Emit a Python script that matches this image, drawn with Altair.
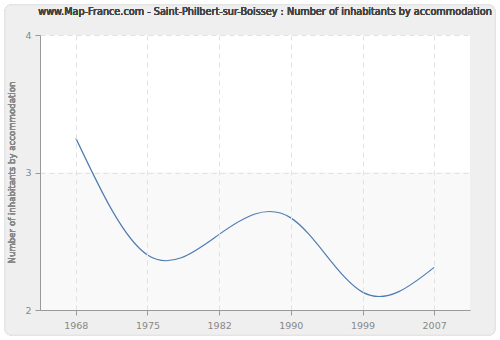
import altair as alt
import pandas as pd

years = ["1968", "1975", "1982", "1990", "1999", "2007"]
values = [3.25, 2.40, 2.55, 2.67, 2.13, 2.31]
y_ticks = [2, 3, 4]
title_text = "www.Map-France.com - Saint-Philbert-sur-Boissey : Number of inhabitants by accommodation"
y_title = "Number of inhabitants by accommodation"

df = pd.DataFrame({"year": years, "value": values})
FONT = "DejaVu Sans"

xscale = alt.Scale(type="point", domain=years, padding=0.5)
yscale = alt.Scale(domain=[2, 4], nice=False, zero=False)

xaxis = alt.Axis(title=None, grid=True, gridColor="#e2e2e2", gridDash=[5, 4],
                 domainColor="#999999", tickColor="#999999",
                 tickSize=5, labelColor="#888888", labelFont=FONT, labelFontSize=9.5,
                 labelPadding=5, labelAngle=0, zindex=2)
yaxis = alt.Axis(title=None, grid=True, gridColor="#e2e2e2", gridDash=[5, 4],
                 values=y_ticks, labelExpr="datum.value + ''", domainColor="#999999",
                 tickColor="#999999", tickSize=5, labelColor="#888888", labelFont=FONT,
                 labelFontSize=9.5, labelPadding=4, labelOverlap=False, zindex=2)

base = alt.Chart(df)

outer = base.mark_rect(fill="#efefef", stroke="#e4e4e4", strokeWidth=1, cornerRadius=6).encode(
    x=alt.value(-35), x2=alt.value(455), y=alt.value(-30), y2=alt.value(300)
)
plotbg = base.mark_rect(fill="#ffffff").encode(
    x=alt.value(0), x2=alt.value(430), y=alt.value(0), y2=alt.value(275)
)
band = base.mark_rect(fill="#f9f9f9").encode(
    x=alt.value(0), x2=alt.value(430),
    y=alt.datum(2, scale=yscale, axis=yaxis), y2=alt.datum(3)
)
line = base.mark_line(interpolate="natural", color="#4f7db0", strokeWidth=1.2).encode(
    x=alt.X("year:O", scale=xscale, axis=xaxis),
    y=alt.Y("value:Q", scale=yscale, axis=yaxis),
)
title = base.mark_text(text=title_text, font=FONT, fontSize=9.7, color="#444444",
                       align="center", baseline="middle").encode(
    x=alt.value(225), y=alt.value(-23)
)
ytitle = base.mark_text(text=y_title, font=FONT, fontSize=8.6, color="#888888",
                        align="center", baseline="middle", angle=270).encode(
    x=alt.value(-28), y=alt.value(137.5)
)

chart = alt.layer(outer, plotbg, band, line, title, ytitle).properties(
    width=430, height=275,
    autosize=alt.AutoSizeParams(type="none"),
    padding={"left": 40, "top": 35, "right": 30, "bottom": 30},
    background="#ffffff",
).configure_view(stroke="#dddddd", strokeWidth=1)

chart.save("out.html", embed_options={"renderer": "svg", "actions": False})
